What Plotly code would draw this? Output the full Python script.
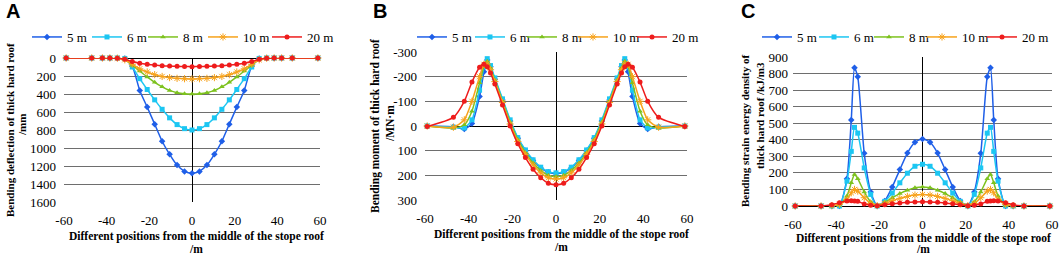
import plotly.graph_objects as go

W, H = 1059, 254

# ---------------- data ----------------
SERIES = ["5 m", "6 m", "8 m", "10 m", "20 m"]
COLORS = ["#1F5FE8", "#1CC6F2", "#7DC21E", "#F7A21B", "#EE1C1C"]
SYMBOLS = ["diamond", "square", "triangle-up", "asterisk-open", "circle"]
MSIZES = [5, 5, 5, 6, 5]

X_TICKS = [-60, -40, -20, 0, 20, 40, 60]
X_TICKTEXT = ["-60", "-40", "-20", "0", "20", "40", "60"]

# Panel A: bending deflection (mm)
XA = [-59, -47, -42, -38.5, -35, -31.5, -28, -24.5, -21, -17.5, -14, -10.5, -7, -3.5, 0,
      3.5, 7, 10.5, 14, 17.5, 21, 24.5, 28, 31.5, 35, 38.5, 42, 47, 59]
A_5 = [0, 0, 0, 0, 0, 5, 90, 360, 545, 735, 925, 1070, 1190, 1260, 1280,
       1260, 1190, 1070, 925, 735, 545, 360, 90, 5, 0, 0, 0, 0, 0]
A_6 = [0, 0, 0, 0, 0, 5, 100, 230, 350, 465, 570, 665, 740, 785, 800,
       785, 740, 665, 570, 465, 350, 230, 100, 5, 0, 0, 0, 0, 0]
A_8 = [0, 0, 0, 0, 0, 15, 80, 145, 210, 270, 320, 360, 385, 397, 400,
       397, 385, 360, 320, 270, 210, 145, 80, 15, 0, 0, 0, 0, 0]
A_10 = [0, 0, 0, 0, 2, 20, 70, 120, 155, 185, 205, 218, 226, 230, 232,
        230, 226, 218, 205, 185, 155, 120, 70, 20, 2, 0, 0, 0, 0]
A_20 = [0, 0, 0, 0, 3, 15, 40, 58, 70, 79, 86, 90, 93, 95, 96,
        95, 93, 90, 86, 79, 70, 58, 40, 15, 3, 0, 0, 0, 0]
A_TICKS = [0, 200, 400, 600, 800, 1000, 1200, 1400, 1600]
A_TICKTEXT = ["0", "200", "400", "600", "800", "1000", "1200", "1400", "1600"]

# Panel B: bending moment (MN·m)
XB = [-59, -47, -42, -38.5, -35, -33, -31.5, -30, -28, -24.5, -21, -17.5, -14, -10.5, -7, -3.5, 0,
      3.5, 7, 10.5, 14, 17.5, 21, 24.5, 28, 30, 31.5, 33, 35, 38.5, 42, 47, 59]
B_5 = [0, 3, 12, -10, -120, -220, -268, -240, -190, -105, -20, 50, 100, 140, 170, 188, 193,
       188, 170, 140, 100, 50, -20, -105, -190, -240, -268, -220, -120, -10, 12, 3, 0]
B_6 = [0, 5, 8, -25, -145, -240, -273, -245, -195, -110, -25, 47, 97, 137, 167, 185, 190,
       185, 167, 137, 97, 47, -25, -110, -195, -245, -273, -240, -145, -25, 8, 5, 0]
B_8 = [0, 8, -5, -60, -175, -240, -262, -235, -185, -100, -15, 55, 108, 150, 180, 200, 205,
       200, 180, 150, 108, 55, -15, -100, -185, -235, -262, -240, -175, -60, -5, 8, 0]
B_10 = [0, 5, -25, -100, -200, -250, -252, -228, -180, -95, -8, 63, 115, 158, 190, 210, 215,
        210, 190, 158, 115, 63, -8, -95, -180, -228, -252, -250, -200, -100, -25, 5, 0]
B_20 = [2, -35, -100, -178, -238, -250, -240, -215, -170, -85, 0, 72, 128, 175, 210, 232, 238,
        232, 210, 175, 128, 72, 0, -85, -170, -215, -240, -250, -238, -178, -100, -35, 2]
B_TICKS = [-300, -200, -100, 0, 100, 200, 300]
B_TICKTEXT = ["-300", "-200", "-100", "0", "100", "200", "300"]

# Panel C: bending strain energy density (kJ/m3)
XC = [-59, -47, -42, -38.5, -35, -33, -31.5, -30, -27, -24, -21, -17.5, -14, -10.5, -7, -3.5, 0,
      3.5, 7, 10.5, 14, 17.5, 21, 24, 27, 30, 31.5, 33, 35, 38.5, 42, 47, 59]
C_5 = [0, 0, 0, 0, 165, 520, 835, 780, 318, 85, 0, 30, 115, 220, 320, 385, 405,
       385, 320, 220, 115, 30, 0, 85, 318, 780, 835, 520, 165, 0, 0, 0, 0]
C_6 = [0, 0, 0, 0, 150, 330, 475, 440, 230, 70, 0, 28, 78, 140, 198, 240, 252,
       240, 198, 140, 78, 28, 0, 70, 230, 440, 475, 330, 150, 0, 0, 0, 0]
C_8 = [0, 0, 0, 5, 60, 140, 190, 165, 85, 25, 2, 22, 50, 75, 95, 110, 115,
       110, 95, 75, 50, 22, 2, 25, 85, 165, 190, 140, 60, 5, 0, 0, 0]
C_10 = [0, 0, 2, 10, 40, 80, 100, 90, 50, 15, 2, 15, 32, 46, 58, 66, 70,
        66, 58, 46, 32, 15, 2, 15, 50, 90, 100, 80, 40, 10, 2, 0, 0]
C_20 = [0, 0, 8, 20, 30, 32, 30, 28, 12, 5, 2, 8, 14, 18, 22, 24, 25,
        24, 22, 18, 14, 8, 2, 5, 12, 28, 30, 32, 30, 20, 8, 0, 0]
C_TICKS = [0, 100, 200, 300, 400, 500, 600, 700, 800, 900]
C_TICKTEXT = ["0", "100", "200", "300", "400", "500", "600", "700", "800", "900"]

X_TITLE = ["Different positions from the middle of the stope roof", "/m"]
Y_TITLES = [
    ["Bending deflection of thick hard roof", "/mm"],
    ["Bending moment of thick hard roof", "/MN·m"],
    ["Bending strain energy density of", "thick hard roof /kJ/m3"],
]
PANEL_LABELS = ["A", "B", "C"]

# ---------------- figure ----------------
SERIF = "Liberation Serif"
# legend entry widths (px) per panel, per series
LEG_W = {
    "legend": [15, 11, 15, 19, 28],
    "legend2": [13, 7, 6, 14, 28],
    "legend3": [12, 10, 8, 15, 27],
}


def px(x):
    return x / W


def py(y):
    return 1 - y / H


fig = go.Figure()

panels = [
    ("x", "y", "legend", XA, [A_5, A_6, A_8, A_10, A_20]),
    ("x2", "y2", "legend2", XB, [B_5, B_6, B_8, B_10, B_20]),
    ("x3", "y3", "legend3", XC, [C_5, C_6, C_8, C_10, C_20]),
]
for xa, ya, leg, xs, ys_list in panels:
    for i, ys in enumerate(ys_list):
        fig.add_trace(go.Scatter(
            x=xs, y=ys, name=SERIES[i], mode="lines+markers",
            xaxis=xa, yaxis=ya, legend=leg, cliponaxis=False,
            line=dict(color=COLORS[i], width=1.5, shape="spline", smoothing=0.6),
            marker=dict(symbol=SYMBOLS[i], size=MSIZES[i], color=COLORS[i],
                        line=dict(color=COLORS[i], width=1 if SYMBOLS[i] == "asterisk-open" else 0)),
            legendwidth=LEG_W[leg][i],
        ))

dom = {
    "A": ([px(64), px(320)], [py(202), py(58)]),
    "B": ([px(425), px(687)], [py(200), py(52)]),
    "C": ([px(793), px(1052)], [py(206), py(57)]),
}

xcommon = dict(range=[-60, 60], tickvals=X_TICKS, ticktext=X_TICKTEXT, showgrid=False,
               zeroline=True, zerolinecolor="#000000", zerolinewidth=1, showline=False,
               ticks="", tickfont=dict(family=SERIF, size=13, color="#000"),
               ticklabelstandoff=9, fixedrange=True, automargin=False)
ycommon = dict(showgrid=True, gridcolor="#6e6e6e", gridwidth=1, zeroline=True,
               zerolinecolor="#000000", zerolinewidth=1, showline=False, ticks="",
               tickfont=dict(family=SERIF, size=13, color="#000"), fixedrange=True,
               ticklabelstandoff=7, automargin=False)

fig.update_layout(
    xaxis=dict(domain=dom["A"][0], anchor="y", **xcommon),
    yaxis=dict(domain=dom["A"][1], anchor="x", range=[1600, 0], tickvals=A_TICKS,
               ticktext=A_TICKTEXT, **ycommon),
    xaxis2=dict(domain=dom["B"][0], anchor="y2", **xcommon),
    yaxis2=dict(domain=dom["B"][1], anchor="x2", range=[300, -300], tickvals=B_TICKS,
                ticktext=B_TICKTEXT, **ycommon),
    xaxis3=dict(domain=dom["C"][0], anchor="y3", **dict(xcommon, ticklabelstandoff=9)),
    yaxis3=dict(domain=dom["C"][1], anchor="x3", range=[0, 900], tickvals=C_TICKS,
                ticktext=C_TICKTEXT, **dict(ycommon, ticklabelstandoff=4)),
)

leg_common = dict(orientation="h", yanchor="middle", xanchor="left", itemwidth=30,
                  font=dict(family=SERIF, size=13, color="#000"), bgcolor="rgba(0,0,0,0)",
                  tracegroupgap=0, itemclick=False, itemdoubleclick=False)
fig.update_layout(
    legend=dict(x=px(27), y=py(37), **leg_common),
    legend2=dict(x=px(412), y=py(37), **leg_common),
    legend3=dict(x=px(757), y=py(37), **leg_common),
)

ann = []


def text_ann(t, xc, yc, size, bold=True, angle=0, family=SERIF):
    ann.append(dict(text=("<b>%s</b>" % t) if bold else t, x=px(xc), y=py(yc),
                    xref="paper", yref="paper", showarrow=False,
                    xanchor="center", yanchor="middle", textangle=angle,
                    font=dict(family=family, size=size, color="#000")))


for lab, xc in zip(PANEL_LABELS, (12.5, 379.5, 747.5)):
    text_ann(lab, xc, 11, 20, family="Liberation Sans")

# x-axis titles (two lines each)
for xc, y1, y2 in ((196, 236, 249), (561, 234, 247), (923, 238, 249)):
    text_ann(X_TITLE[0], xc, y1, 11.5)
    text_ann(X_TITLE[1], xc, y2, 11.5)

# y-axis titles (two rotated lines each)
ypos = [((10, 130), (22, 125), 11), ((375, 126), (390, 124), 11.5), ((745, 131), (760, 116), 11)]
for lines, ((x1, c1), (x2, c2), sz) in zip(Y_TITLES, ypos):
    text_ann(lines[0], x1, c1, sz, angle=-90)
    text_ann(lines[1], x2, c2, sz, angle=-90)

fig.update_layout(
    annotations=ann,
    width=W, height=H, autosize=False,
    margin=dict(l=0, r=0, t=0, b=0, pad=0, autoexpand=False),
    paper_bgcolor="white", plot_bgcolor="white",
    showlegend=True,
)

fig.write_html("out.html", config={"displayModeBar": False},
               post_script="document.body.style.margin='0';document.body.style.overflow='hidden';")
